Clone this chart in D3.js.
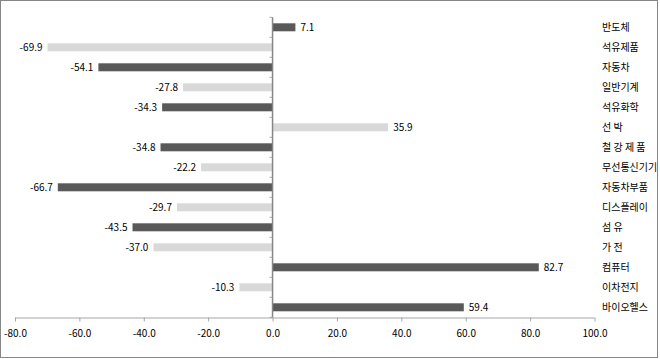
<!DOCTYPE html>
<html>
<head>
<meta charset="utf-8">
<script src="https://cdn.jsdelivr.net/npm/d3@7"></script>
<style>
body{margin:0;padding:0;background:#fff;}
svg{display:block;}
text{font-family:"Noto Sans CJK KR","Noto Sans",sans-serif;}
</style>
</head>
<body>
<svg id="chart" width="660" height="359"></svg>
<script>
const categories = ["반도체","석유제품","자동차","일반기계","석유화학","선 박","철 강 제 품","무선통신기기","자동차부품","디스플레이","섬 유","가 전","컴퓨터","이차전지","바이오헬스"];
const values = [7.1,-69.9,-54.1,-27.8,-34.3,35.9,-34.8,-22.2,-66.7,-29.7,-43.5,-37.0,82.7,-10.3,59.4];
const xTicks = [-80,-60,-40,-20,0,20,40,60,80,100];
const barColors = ["#595959","#d9d9d9"];

const svg = d3.select("#chart");
svg.append("rect").attr("x",0.5).attr("y",0.5).attr("width",657).attr("height",357)
  .attr("fill","#fff").attr("stroke","#868686").attr("stroke-width",1);

const x = d3.scaleLinear().domain([-80,100]).range([15,594.5]);
const yb = d3.scaleBand().domain(categories).range([17.3,317.3]).padding(0);

// bars
svg.selectAll("rect.bar").data(values).enter().append("rect")
  .attr("class","bar")
  .attr("x",d=>x(Math.min(0,d)))
  .attr("width",d=>Math.abs(x(d)-x(0)))
  .attr("y",(d,i)=>yb(categories[i])+yb.bandwidth()/2-4)
  .attr("height",8)
  .attr("fill",(d,i)=>barColors[i%2]);

// value labels
svg.selectAll("text.val").data(values).enter().append("text")
  .attr("class","val")
  .attr("x",d=>d>=0?x(d)+5:x(d)-5)
  .attr("y",(d,i)=>yb(categories[i])+yb.bandwidth()/2+4)
  .attr("text-anchor",d=>d>=0?"start":"end")
  .attr("font-size",10).attr("fill","#000")
  .text(d=>d.toFixed(1));

// x axis
const xAxis = d3.axisBottom(x).tickValues(xTicks).tickSize(4).tickFormat(d=>d.toFixed(1));
const gx = svg.append("g").attr("transform","translate(0,317.5)").call(xAxis);
gx.select(".domain").attr("stroke","#a6a6a6").attr("d","M15,0.5H594.5");
gx.selectAll(".tick line").attr("stroke","#a6a6a6");
gx.selectAll(".tick text").attr("font-size",10).attr("fill","#000").attr("dy","1.2em")
  .attr("font-family",'"Noto Sans CJK KR","Noto Sans",sans-serif');

// y axis at zero
const yAxisG = svg.append("g");
yAxisG.append("line").attr("x1",x(0)).attr("x2",x(0)).attr("y1",17.3).attr("y2",317.5)
  .attr("stroke","#868686").attr("stroke-width",1.5);
const bounds = categories.map(c=>yb(c)).concat([yb(categories[categories.length-1])+yb.bandwidth()]);
yAxisG.selectAll("line.yt").data(bounds).enter().append("line")
  .attr("x1",x(0)-3).attr("x2",x(0)).attr("y1",d=>d).attr("y2",d=>d)
  .attr("stroke","#a6a6a6");

// category labels on right
svg.selectAll("text.cat").data(categories).enter().append("text")
  .attr("class","cat")
  .attr("x",602)
  .attr("y",c=>yb(c)+yb.bandwidth()/2+4)
  .attr("font-size",10).attr("fill","#000")
  .style("white-space","pre")
  .text(c=>c);
</script>
</body>
</html>
